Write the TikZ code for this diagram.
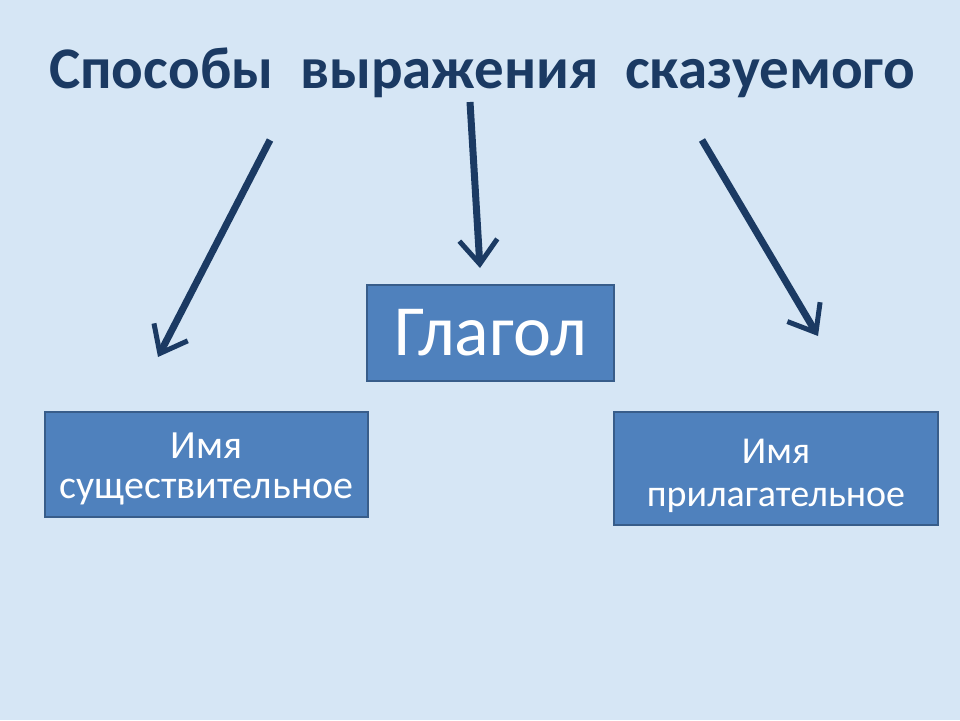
\documentclass[tikz,border=0pt]{standalone}
\usepackage{fontspec}
\setmainfont{Carlito}
\usetikzlibrary{arrows.meta}
\definecolor{bg}{HTML}{D6E6F5}
\definecolor{navy}{HTML}{1B3A63}
\definecolor{boxfill}{HTML}{4F81BD}
\definecolor{boxline}{HTML}{385D8A}
\newcommand{\lowered}[2]{\raisebox{-#1}[\height][\depth]{\begin{tabular}{@{}c@{}}#2\end{tabular}}}
\tikzset{
  box/.style={draw=boxline, line width=2pt, fill=boxfill, text=white, align=center, inner sep=0pt},
  arr/.style={draw=navy, line width=7pt, -{Straight Barb[length=24pt,width=38pt,line width=5pt]}},
}
\begin{document}
\begin{tikzpicture}[x=1pt,y=-1pt]
\fill[bg] (0,0) rectangle (960,720);
\useasboundingbox (0,0) rectangle (960,720);
\node[text=navy, font=\fontsize{59}{62}\selectfont\bfseries, anchor=base] (title) at (482,88) {Способы\ \ выражения\ \ сказуемого};
\node[box, minimum width=247pt, minimum height=96pt, font=\fontsize{72}{74}\selectfont] (verb) at (490.5,333) {Глагол};
\node[box, minimum width=323pt, minimum height=105pt, font=\fontsize{40}{40}\selectfont] (noun) at (206.5,464.5) {\lowered{6pt}{Имя\\существительное}};
\node[box, minimum width=324pt, minimum height=113pt, font=\fontsize{38}{43}\selectfont] (adj) at (776,468.5) {\lowered{8pt}{Имя\\прилагательное}};
\coordinate (s1) at (270,140);
\coordinate (e1) at (158,357);
\coordinate (s2) at (470,102);
\coordinate (e2) at (480,268);
\coordinate (s3) at (702,140);
\coordinate (e3) at (818,336);
\draw[arr] (s1) -- (e1);
\draw[arr] (s2) -- (e2);
\draw[arr] (s3) -- (e3);
\end{tikzpicture}
\end{document}
